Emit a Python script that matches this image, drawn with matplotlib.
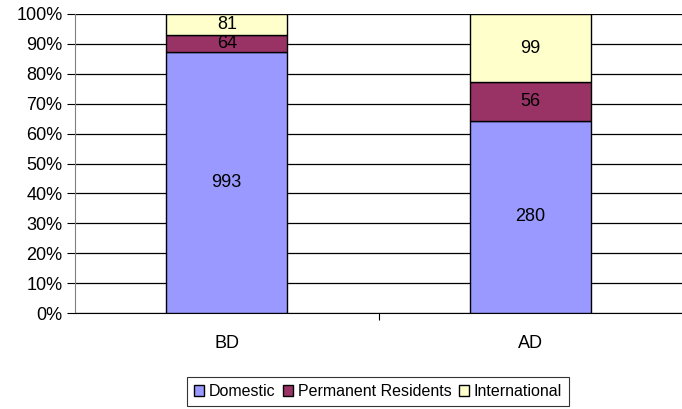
import numpy as np
import matplotlib
matplotlib.use("Agg")
from matplotlib import pyplot as plt
from matplotlib.ticker import PercentFormatter

plt.rcParams['font.family'] = ['Liberation Sans', 'DejaVu Sans']

categories = ["BD", "AD"]
series_names = ["Domestic", "Permanent Residents", "International"]
domestic = [993, 280]
permanent = [64, 56]
international = [81, 99]
colors = ["#9999FF", "#993366", "#FFFFCC"]

counts = np.array([domestic, permanent, international], dtype=float)
shares = counts / counts.sum(axis=0) * 100

fig = plt.figure(figsize=(6.82, 4.09), dpi=100)
ax = fig.add_axes([75 / 682, 1 - 313 / 409, 607 / 682, 299 / 409])

x = np.arange(len(categories))
bottom = np.zeros(len(categories))
for i in range(len(series_names)):
    ax.bar(x, shares[i], width=0.4, bottom=bottom, color=colors[i],
           edgecolor="black", linewidth=1, label=series_names[i], zorder=3)
    for j in range(len(categories)):
        ax.text(x[j], bottom[j] + shares[i][j] / 2, "%d" % counts[i][j],
                ha="center", va="center", fontsize=13, zorder=4)
    bottom = bottom + shares[i]

ax.set_xlim(-0.5, 1.5)
ax.set_ylim(0, 100)
ax.set_yticks(np.arange(0, 101, 10))
ax.yaxis.set_major_formatter(PercentFormatter(decimals=0))
ax.grid(axis="y", color="black", linewidth=0.9, zorder=0)
ax.set_xticks([0.5])
ax.set_xticklabels([""])
ax.tick_params(axis="x", length=5, width=0.8)
ax.tick_params(axis="y", length=6, width=0.8, labelsize=13, pad=3)
for j in range(len(categories)):
    ax.text(x[j], -7.5, categories[j], ha="center", va="top", fontsize=13)
for side in ["top", "right"]:
    ax.spines[side].set_visible(False)
ax.spines["left"].set_color("#808080")
ax.spines["bottom"].set_color("black")

leg = ax.legend(loc="upper left", bbox_to_anchor=(187 / 682, 1 - 377 / 409),
                bbox_transform=fig.transFigure, ncol=3, fontsize=11.5,
                frameon=True, fancybox=False, edgecolor="black",
                handlelength=0.6, handleheight=0.6, handletextpad=0.3,
                columnspacing=0.5, borderpad=0.45, borderaxespad=0)
leg.get_frame().set_linewidth(0.8)

fig.savefig("out.png", dpi=100)
